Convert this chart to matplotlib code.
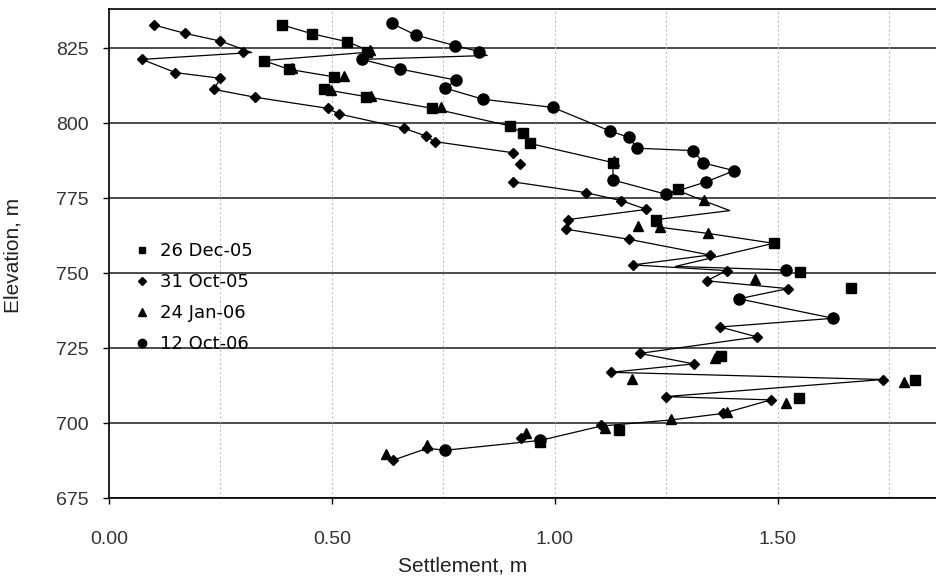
import numpy as np
import matplotlib
matplotlib.use("Agg")
import matplotlib.pyplot as plt
from matplotlib.ticker import MultipleLocator

nan = np.nan

# ---- marker series (settlement m, elevation m) ----
dec05_x = [0.388, 0.456, 0.534, 0.579, 0.347, 0.403, 0.504, 0.482, 0.576, 0.725, 0.900, 0.928,
           0.943, 1.130, 1.276, 1.227, 1.490, 1.549, 1.663, 1.373, 1.808, 1.546, 1.143, 0.967]
dec05_e = [832.7, 829.7, 827.1, 823.6, 820.8, 817.9, 815.4, 811.2, 808.8, 804.9, 799.0, 796.6,
           793.2, 786.8, 777.9, 767.7, 759.9, 750.4, 744.9, 722.3, 714.3, 708.2, 697.7, 693.6]

oct05_x = [0.100, 0.170, 0.250, 0.300, 0.074, 0.149, 0.250, 0.235, 0.327, 0.490, 0.516, 0.662,
           0.710, 0.730, 0.905, 0.922, 0.905, 1.069, 1.149, 1.205, 1.029, 1.025, 1.167, 1.347,
           1.175, 1.385, 1.340, 1.522, 1.370, 1.453, 1.190, 1.311, 1.126, 1.735, 1.248, 1.484,
           1.377, 1.104, 0.924, 0.714, 0.637]
oct05_e = [832.7, 829.9, 827.3, 823.8, 821.2, 816.8, 814.9, 811.2, 808.6, 804.9, 803.0, 798.2,
           795.7, 793.8, 790.1, 786.2, 780.4, 776.8, 774.1, 771.2, 767.8, 764.6, 761.2, 756.0,
           752.7, 750.8, 747.4, 744.8, 732.0, 728.7, 723.2, 719.7, 716.9, 714.5, 708.8, 707.7,
           703.2, 699.2, 694.9, 691.6, 687.6]

jan06_x = [0.585, 0.410, 0.527, 0.498, 0.587, 0.744, 1.133, 1.333, 1.186, 1.235, 1.343, 1.448,
           1.358, 1.173, 1.782, 1.518, 1.385, 1.261, 1.111, 0.935, 0.713, 0.622]
jan06_e = [824.3, 818.4, 815.7, 811.0, 809.0, 805.2, 787.4, 774.3, 765.7, 765.4, 763.2, 747.9,
           721.6, 714.8, 713.8, 706.8, 703.8, 701.2, 698.2, 696.8, 692.6, 689.7]

oct06_x = [0.634, 0.688, 0.776, 0.830, 0.567, 0.652, 0.778, 0.754, 0.839, 0.995, 1.124, 1.166,
           1.184, 1.310, 1.332, 1.402, 1.339, 1.130, 1.250, 1.518, 1.412, 1.624, 0.967, 0.753]
oct06_e = [833.2, 829.3, 825.8, 823.8, 821.2, 818.0, 814.3, 811.6, 807.9, 805.2, 797.3, 795.2,
           791.6, 790.8, 786.7, 784.1, 780.4, 781.0, 776.3, 751.0, 741.4, 734.9, 694.2, 690.9]

# ---- connecting profile lines (drawn without legend entries) ----
line_a_x = [0.100, 0.170, 0.250, 0.320, 0.074, 0.149, 0.250, 0.235, 0.327, 0.490, 0.516, 0.662,
            0.710, 0.730, 0.905, nan, 0.905, 1.069, 1.149, 1.205, 1.029, 1.025, 1.167, 1.347,
            1.175, 1.385, 1.340, 1.522, 1.412, 1.624, 1.370, 1.453, 1.190, 1.311, 1.126, 1.735,
            1.248, 1.484, 1.377, 1.259, 1.104, 0.967, 0.753, 0.714, 0.637]
line_a_e = [832.7, 829.9, 827.3, 823.5, 821.2, 816.8, 814.9, 811.2, 808.6, 804.9, 803.0, 798.2,
            795.7, 793.8, 790.1, nan, 780.4, 776.8, 774.1, 771.2, 767.8, 764.6, 761.2, 756.0,
            752.7, 750.8, 747.4, 744.8, 741.4, 734.9, 732.0, 728.7, 723.2, 719.7, 716.9, 714.5,
            708.8, 707.7, 703.2, 701.0, 699.0, 694.2, 690.9, 691.6, 687.6]

line_b_x = [0.388, 0.456, 0.534, 0.590, 0.347, 0.403, 0.504, nan, 0.482, 0.576, 0.725, 0.900,
            0.928, 0.943, 1.130, 1.130, 1.250, 1.272, 1.333, 1.392, 1.222, 1.216, 1.343, 1.490,
            1.270, 1.518]
line_b_e = [832.7, 829.7, 827.1, 823.7, 820.8, 817.9, 815.4, nan, 811.2, 808.8, 804.9, 799.0,
            796.6, 793.2, 786.8, 781.0, 776.2, 777.7, 774.1, 770.8, 767.7, 765.6, 763.2, 759.9,
            752.2, 751.0]

line_c_x = [0.634, 0.688, 0.776, 0.830, 0.848, 0.567, 0.652, 0.778, 0.754, 0.839, 0.995, 1.124,
            1.166, 1.184, 1.310, 1.332, 1.402, 1.339, 1.250]
line_c_e = [833.2, 829.3, 825.8, 823.8, 822.5, 821.2, 818.0, 814.3, 811.6, 807.9, 805.2, 797.3,
            795.2, 791.6, 790.8, 786.7, 784.1, 780.4, 776.2]

x_ticks = [0.0, 0.5, 1.0, 1.5]
x_ticklabels = ["0.00", "0.50", "1.00", "1.50"]
y_ticks = [675, 700, 725, 750, 775, 800, 825]

plt.rcParams['font.family'] = ['Liberation Sans', 'DejaVu Sans']

fig = plt.figure(figsize=(9.37, 5.79), dpi=100)
ax = fig.add_axes([109/937, 1 - 498/579, 828/937, 489/579])

# grid
for yv in y_ticks:
    ax.axhline(yv, color='#1a1a1a', lw=1.1, zorder=1)
ax.xaxis.set_minor_locator(MultipleLocator(0.25))
ax.grid(True, which='both', axis='x', color='#c0c0c0', ls=(0, (2, 2)), lw=0.8, zorder=0)

# lines
lk = dict(color='black', lw=0.9, zorder=2)
ax.plot(line_a_x, line_a_e, **lk)
ax.plot(line_b_x, line_b_e, **lk)
ax.plot(line_c_x, line_c_e, **lk)

# markers
ax.plot(dec05_x, dec05_e, ls='none', marker='s', ms=6.5, color='black', label='26 Dec-05', zorder=3)
ax.plot(oct05_x, oct05_e, ls='none', marker='D', ms=5.5, color='black', label='31 Oct-05', zorder=3)
ax.plot(jan06_x, jan06_e, ls='none', marker='^', ms=7, color='black', label='24 Jan-06', zorder=3)
ax.plot(oct06_x, oct06_e, ls='none', marker='o', ms=8, color='black', label='12 Oct-06', zorder=3)

ax.set_xlim(0, 828/446)
ax.set_ylim(675, 838)
ax.set_xticks(x_ticks)
ax.set_xticklabels(x_ticklabels)
ax.set_yticks(y_ticks)
ax.tick_params(axis='both', which='major', direction='out', length=4.5, width=1, labelsize=14, colors='black')
ax.tick_params(axis='x', which='major', pad=19)
ax.tick_params(axis='y', which='major', pad=10)
ax.tick_params(axis='x', which='minor', length=0)
for lab in ax.get_xticklabels() + ax.get_yticklabels():
    lab.set_color('#333333')

for s in ['left', 'bottom', 'top']:
    ax.spines[s].set_linewidth(1.2)
    ax.spines[s].set_color('black')
ax.spines['right'].set_visible(False)

ax.set_xlabel('Settlement, m', fontsize=15, color='#222222')
ax.set_ylabel('Elevation, m', fontsize=15, color='#222222')
ax.xaxis.set_label_coords((463 - 109) / 828, (498 - 556) / 489)
ax.yaxis.set_label_coords((23 - 109) / 828, (498 - 255) / 489)

leg = ax.legend(loc='upper left', bbox_to_anchor=((135 - 109) / 828, (498 - 242) / 489),
                frameon=False, handlelength=0.8, handletextpad=0.6, labelspacing=0.72,
                borderaxespad=0, borderpad=0,
                prop={'family': 'DejaVu Sans', 'size': 13}, markerscale=0.75)

fig.savefig('out.png', dpi=100)
